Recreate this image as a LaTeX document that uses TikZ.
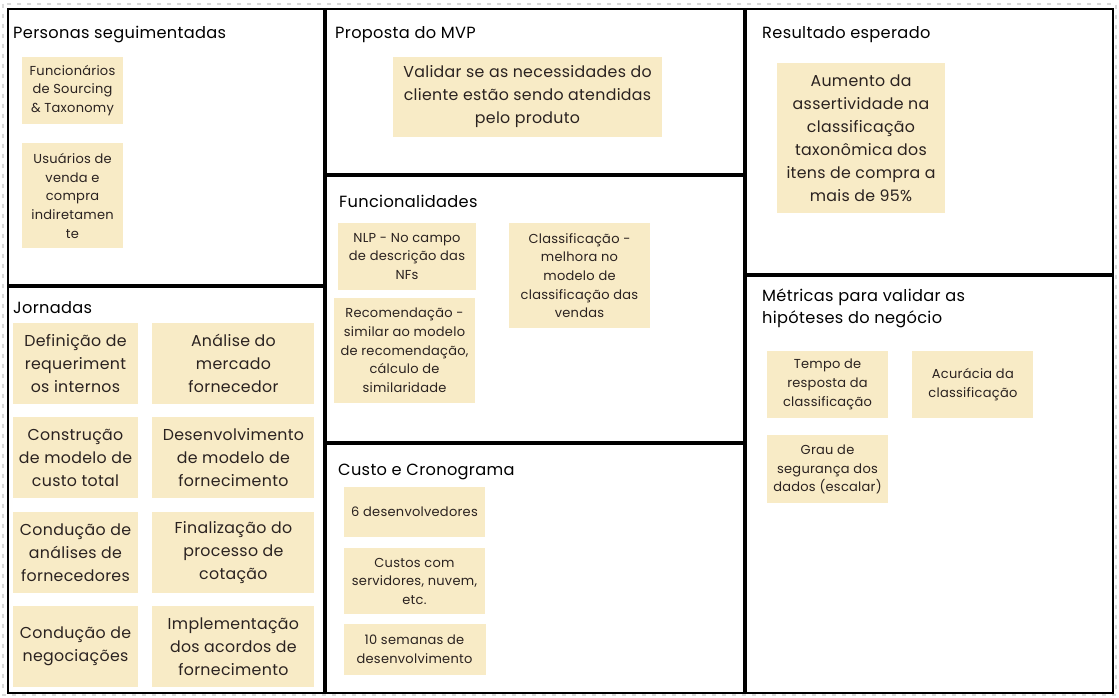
\documentclass[tikz,border=0pt]{standalone}
\usepackage{fontspec}
\setmainfont{Poppins}[LetterSpace=2]
\usetikzlibrary{positioning,calc}

\definecolor{notefill}{HTML}{F8EBC6}
\definecolor{notetext}{HTML}{2A2220}
\definecolor{gridgray}{HTML}{DADADA}

\begin{document}
\begin{tikzpicture}[
    x=1pt, y=-1pt,
    node distance=12pt,
    panel/.style={rectangle, draw=black, line width=2pt, fill=white, inner sep=0pt, anchor=north west},
    paneltitle/.style={anchor=base west, inner sep=0pt, align=left, text=black, font=\fontsize{16.2}{22}\selectfont},
    note/.style={rectangle, fill=notefill, inner sep=0pt, align=center, text=notetext, font=\fontsize{13}{18.7}\selectfont},
    bignote/.style={note, font=\fontsize{15.8}{23}\selectfont}
]
\useasboundingbox (0,0) rectangle (1119,698);

% Background grid edge
\draw[gridgray, line width=1.2pt, dash pattern=on 4pt off 6pt] (3,4) rectangle (1116,695);

% Panels
\node[panel, minimum width=316pt, minimum height=276pt] (personas) at (7,8) {};
\node[panel, minimum width=316pt, minimum height=406pt] (jornadas) at (7,286) {};
\node[panel, minimum width=418pt, minimum height=165pt] (proposta) at (325,8) {};
\node[panel, minimum width=418pt, minimum height=266pt] (funcional) at (325,175) {};
\node[panel, minimum width=418pt, minimum height=249pt] (custo) at (325,443) {};
\node[panel, minimum width=367pt, minimum height=265pt] (resultado) at (745,8) {};
\node[panel, minimum width=367pt, minimum height=417pt] (metricas) at (745,275) {};

% Titles
\node[paneltitle] (personasT) at (13,39) {Personas seguimentadas};
\node[paneltitle] (jornadasT) at (13,313) {Jornadas};
\node[paneltitle] (propostaT) at (335,39) {Proposta do MVP};
\node[paneltitle] (funcionalT) at (339,207) {Funcionalidades};
\node[paneltitle] (custoT) at (338,475) {Custo e Cronograma};
\node[paneltitle] (resultadoT) at (762,39) {Resultado esperado};
\node[paneltitle] (metricasT) at (762,323) {Métricas para validar as\\hipóteses do negócio};

% Personas
\node[note, minimum width=101pt, minimum height=67pt] (funcionarios) at (72.5,90.5) {Funcionários\\de Sourcing\\\& Taxonomy};
\node[note, minimum width=101pt, minimum height=105pt, below=19pt of funcionarios] (usuarios) {Usuários de\\venda e\\compra\\indiretamen\\te};

% Jornadas
\node[bignote, minimum width=125pt, minimum height=81pt] (definicao) at (75.5,363.5) {Definição de\\requeriment\\os internos};
\node[bignote, minimum width=162pt, minimum height=81pt, right=14pt of definicao] (analise) {Análise do\\mercado\\fornecedor};
\node[bignote, minimum width=125pt, minimum height=81pt, below=13pt of definicao] (construcao) {Construção\\de modelo de\\custo total};
\node[bignote, minimum width=162pt, minimum height=81pt, right=14pt of construcao] (desenvolvimento) {Desenvolvimento\\de modelo de\\fornecimento};
\node[bignote, minimum width=125pt, minimum height=81pt, below=13pt of construcao] (conducaoA) {Condução de\\análises de\\fornecedores};
\node[bignote, minimum width=162pt, minimum height=81pt, right=14pt of conducaoA] (finalizacao) {Finalização do\\processo de\\cotação};
\node[bignote, minimum width=125pt, minimum height=81pt, below=13pt of conducaoA] (conducaoN) {Condução de\\negociações};
\node[bignote, minimum width=162pt, minimum height=81pt, right=14pt of conducaoN] (implementacao) {Implementação\\dos acordos de\\fornecimento};

% Proposta
\node[bignote, minimum width=269pt, minimum height=80pt] (validar) at (527.5,97) {Validar se as necessidades do\\cliente estão sendo atendidas\\pelo produto};

% Funcionalidades
\node[note, minimum width=138pt, minimum height=67pt] (nlp) at (407,256.5) {NLP - No campo\\de descrição das\\NFs};
\node[note, minimum width=141pt, minimum height=105pt] (recomendacao) at (404.5,350.5) {Recomendação -\\similar ao modelo\\de recomendação,\\cálculo de\\similaridade};
\node[note, minimum width=141pt, minimum height=105pt] (classificacao) at (579.5,275.5) {Classificação -\\melhora no\\modelo de\\classificação das\\vendas};

% Custo e Cronograma
\node[note, minimum width=141pt, minimum height=50pt] (devs) at (414.5,512) {6 desenvolvedores};
\node[note, minimum width=141pt, minimum height=66pt, below=11pt of devs] (custos) {Custos com\\servidores, nuvem,\\etc.};
\node[note, minimum width=142pt, minimum height=51pt, below=9pt of custos] (semanas) {10 semanas de\\desenvolvimento};

% Resultado esperado
\node[bignote, minimum width=168pt, minimum height=150pt] (aumento) at (861,138) {Aumento da\\assertividade na\\classificação\\taxonômica dos\\itens de compra a\\mais de 95\%};

% Metricas
\node[note, minimum width=121pt, minimum height=67pt] (tempo) at (827.5,384.5) {Tempo de\\resposta da\\classificação};
\node[note, minimum width=121pt, minimum height=67pt, right=24pt of tempo] (acuracia) {Acurácia da\\classificação};
\node[note, minimum width=121pt, minimum height=68pt, below=17pt of tempo] (grau) {Grau de\\segurança dos\\dados (escalar)};

\end{tikzpicture}
\end{document}
